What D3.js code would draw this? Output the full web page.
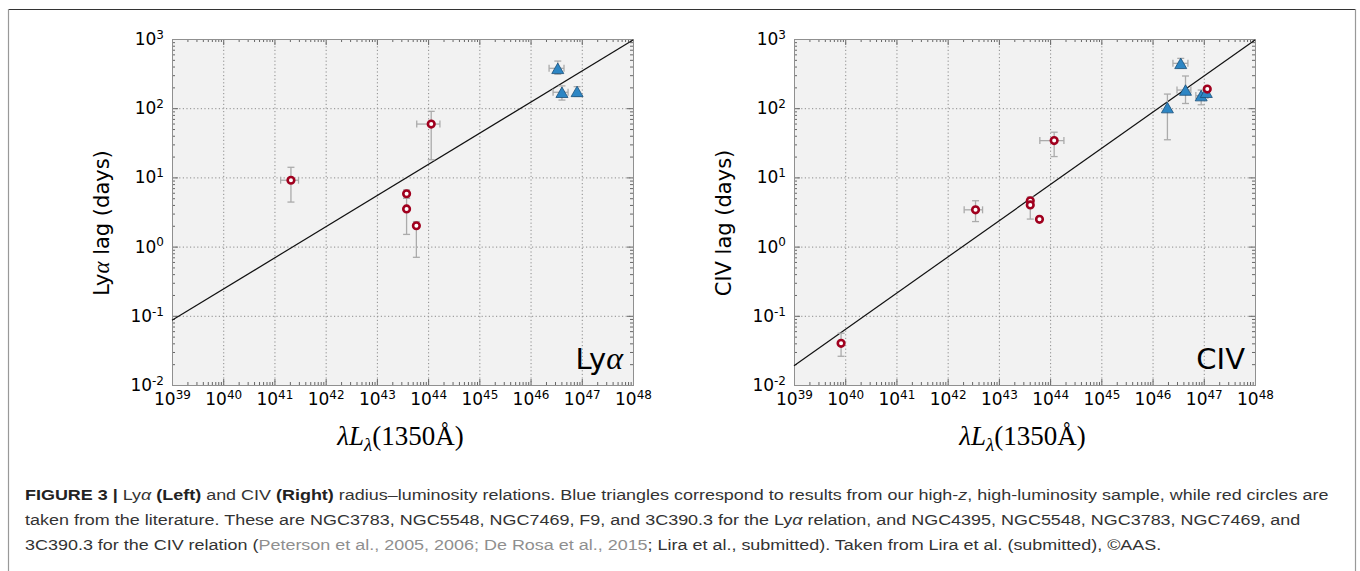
<!DOCTYPE html>
<html><head><meta charset="utf-8">
<script src="https://cdn.jsdelivr.net/npm/d3@7"></script>
<style>body{margin:0;background:#fff} svg{display:block}</style>
</head><body>
<svg id="c" width="1360" height="571"></svg>
<script>
// ---------- tick definitions ----------
const xTicks = [1e39,1e40,1e41,1e42,1e43,1e44,1e45,1e46,1e47,1e48];
const xTickExp = ["39","40","41","42","43","44","45","46","47","48"];
const yTicks = [1e-2,1e-1,1e0,1e1,1e2,1e3];
const yTickExp = ["-2","-1","0","1","2","3"];

// ---------- Lyα panel data (x = λLλ, y = lag days) ----------
const lyaCircles = [
  {x:2.1e41, y:9.1, xlo:1.32e41, xhi:2.95e41, ylo:4.4, yhi:14},
  {x:1.15e44, y:59, xlo:6.0e43, xhi:1.7e44, ylo:18, yhi:90},
  {x:3.8e43, y:5.8, xlo:null, xhi:null, ylo:5.0, yhi:6.6},
  {x:3.8e43, y:3.5, xlo:null, xhi:null, ylo:1.5, yhi:5.0},
  {x:5.9e43, y:2.0, xlo:null, xhi:null, ylo:0.7, yhi:2.3}
];
const lyaTriangles = [
  {x:3.4e46, y:377, xlo:2.3e46, xhi:4.5e46, ylo:310, yhi:480},
  {x:4.1e46, y:170, xlo:2.75e46, xhi:5.4e46, ylo:131, yhi:210},
  {x:8.1e46, y:175, xlo:null, xhi:null, ylo:148, yhi:205}
];
const lyaFit = [[1e39,0.086],[1e48,970]];

// ---------- CIV panel data ----------
const civCircles = [
  {x:8.3e39, y:0.040, xlo:null, xhi:null, ylo:0.026, yhi:0.056},
  {x:3.5e42, y:3.4, xlo:2.1e42, xhi:4.8e42, ylo:2.3, yhi:4.6},
  {x:4.1e43, y:4.6, xlo:null, xhi:null, ylo:4.0, yhi:5.2},
  {x:4.1e43, y:4.0, xlo:null, xhi:null, ylo:2.5, yhi:4.6},
  {x:6.2e43, y:2.48, xlo:null, xhi:null, ylo:2.3, yhi:2.7},
  {x:1.2e44, y:34, xlo:6.3e43, xhi:1.86e44, ylo:20, yhi:45},
  {x:1.17e47, y:189, xlo:null, xhi:null, ylo:175, yhi:200}
];
const civTriangles = [
  {x:3.55e46, y:445, xlo:2.5e46, xhi:4.9e46, ylo:380, yhi:525},
  {x:4.4e46, y:183, xlo:3.0e46, xhi:5.6e46, ylo:117, yhi:292},
  {x:1.95e46, y:102, xlo:null, xhi:null, ylo:35, yhi:160},
  {x:8.9e46, y:152, xlo:7.0e46, xhi:1.2e47, ylo:112, yhi:183},
  {x:1.12e47, y:170, xlo:null, xhi:null, ylo:150, yhi:190}
];
const civFit = [[1e39,0.019],[1e48,970]];

// ---------- caption ----------
const captionLines = [
  [["FIGURE 3 | ","b"],["Ly",""],["α","i"],[" ",""],["(Left)","b"],[" and CIV ",""],["(Right)","b"],
   [" radius–luminosity relations. Blue triangles correspond to results from our high-",""],["z","i"],
   [", high-luminosity sample, while red circles are",""]],
  [["taken from the literature. These are NGC3783, NGC5548, NGC7469, F9, and 3C390.3 for the Ly",""],["α","i"],
   [" relation, and NGC4395, NGC5548, NGC3783, NGC7469, and",""]],
  [["3C390.3 for the CIV relation (",""],["Peterson et al., 2005, 2006; De Rosa et al., 2015","g"],
   ["; Lira et al., submitted). Taken from Lira et al. (submitted), ©AAS.",""]]
];

const svg = d3.select("#c");
const RED = "#a0001e", BLUE = "#2d86c4", BLUE_EDGE = "#1b4f78", ERR = "#ababab";

// figure frame
svg.append("line").attr("x1",8).attr("x2",1356).attr("y1",9.5).attr("y2",9.5).attr("stroke","#333").attr("stroke-width",1.2);
svg.append("line").attr("x1",8.5).attr("x2",8.5).attr("y1",9).attr("y2",571).attr("stroke","#999").attr("stroke-width",1.2);
svg.append("line").attr("x1",1355.5).attr("x2",1355.5).attr("y1",9).attr("y2",571).attr("stroke","#999").attr("stroke-width",1.2);

const minorX = [], minorY = [];
for (let e=39;e<48;e++) for (let k=2;k<10;k++) minorX.push(k*Math.pow(10,e));
for (let e=-2;e<3;e++) for (let k=2;k<10;k++) minorY.push(k*Math.pow(10,e));

function triPath(w,h){ return `M0,${-h/2}L${w/2},${h/2}L${-w/2},${h/2}Z`; }

function panel(cfg){
  const x = d3.scaleLog().domain([1e39,1e48]).range([cfg.left, cfg.right]);
  const y = d3.scaleLog().domain([1e-2,1e3]).range([385,39]);
  const g = svg.append("g");
  const [x0,x1] = x.range(), [y0,y1] = y.range();
  g.append("rect").attr("x",x0).attr("y",y1).attr("width",x1-x0).attr("height",y0-y1).attr("fill","#f2f2f2");
  // grid
  g.selectAll(".gx").data(xTicks.slice(1,-1)).join("line")
    .attr("x1",d=>x(d)+0.5).attr("x2",d=>x(d)+0.5).attr("y1",y1).attr("y2",y0)
    .attr("stroke","#8c8c8c").attr("stroke-width",1).attr("stroke-dasharray","1.2,2.4");
  g.selectAll(".gy").data(yTicks.slice(1,-1)).join("line")
    .attr("y1",d=>y(d)+0.5).attr("y2",d=>y(d)+0.5).attr("x1",x0).attr("x2",x1)
    .attr("stroke","#8c8c8c").attr("stroke-width",1).attr("stroke-dasharray","1.2,2.4");

  const fontT = "DejaVu Sans";
  function styleAxis(sel){ sel.select(".domain").remove(); sel.selectAll(".tick line").attr("stroke","#666"); sel.attr("font-family",fontT).attr("font-size",17); }
  const mk = (ax, vals, size, tr) => g.append("g").attr("transform",tr).call(ax.tickValues(vals).tickSize(-size).tickSizeOuter(0).tickFormat("")).call(styleAxis);
  mk(d3.axisBottom(x), minorX, 3, `translate(0,${y0})`);
  mk(d3.axisTop(x), minorX, 3, `translate(0,${y1})`);
  mk(d3.axisLeft(y), minorY, 3, `translate(${x0},0)`);
  mk(d3.axisRight(y), minorY, 3, `translate(${x1},0)`);
  mk(d3.axisTop(x), xTicks, 6, `translate(0,${y1})`);
  mk(d3.axisRight(y), yTicks, 6, `translate(${x1},0)`);
  const bx = g.append("g").attr("transform",`translate(0,${y0})`)
    .call(d3.axisBottom(x).tickValues(xTicks).tickSize(-6).tickSizeOuter(0).tickPadding(8).tickFormat(()=>"")).call(styleAxis);
  bx.selectAll(".tick text").attr("fill","#000").each(function(d,i){
    const t=d3.select(this); t.append("tspan").text("10");
    t.append("tspan").attr("dy","-0.52em").attr("font-size",12).text(xTickExp[i]);
  });
  const ly = g.append("g").attr("transform",`translate(${x0},0)`)
    .call(d3.axisLeft(y).tickValues(yTicks).tickSize(-6).tickSizeOuter(0).tickPadding(8).tickFormat(()=>"")).call(styleAxis);
  ly.selectAll(".tick text").attr("fill","#000").each(function(d,i){
    const t=d3.select(this); t.append("tspan").text("10");
    t.append("tspan").attr("dy","-0.52em").attr("font-size",12).text(yTickExp[i]);
  });
  g.append("rect").attr("x",x0+0.5).attr("y",y1+0.5).attr("width",x1-x0).attr("height",y0-y1)
    .attr("fill","none").attr("stroke","#909090").attr("stroke-width",1);

  g.append("path").datum(cfg.fit).attr("d",d3.line().x(d=>x(d[0])).y(d=>y(d[1])))
    .attr("stroke","#111").attr("stroke-width",1.2).attr("fill","none");

  function errs(data){
    const eg = g.append("g").attr("stroke",ERR).attr("stroke-width",1.3).attr("fill","none");
    data.forEach(d=>{
      if(d.ylo!=null){
        eg.append("line").attr("x1",x(d.x)).attr("x2",x(d.x)).attr("y1",y(d.ylo)).attr("y2",y(d.yhi));
        [d.ylo,d.yhi].forEach(v=>eg.append("line").attr("x1",x(d.x)-3.5).attr("x2",x(d.x)+3.5).attr("y1",y(v)).attr("y2",y(v)));
      }
      if(d.xlo!=null){
        eg.append("line").attr("y1",y(d.y)).attr("y2",y(d.y)).attr("x1",x(d.xlo)).attr("x2",x(d.xhi));
        [d.xlo,d.xhi].forEach(v=>eg.append("line").attr("y1",y(d.y)-3.5).attr("y2",y(d.y)+3.5).attr("x1",x(v)).attr("x2",x(v)));
      }
    });
  }
  errs(cfg.tri); errs(cfg.circ);
  g.selectAll(".tri").data(cfg.tri).join("path").attr("d",triPath(12,10.5))
    .attr("transform",d=>`translate(${x(d.x)},${y(d.y)})`)
    .attr("fill",BLUE).attr("stroke",BLUE_EDGE).attr("stroke-width",0.8);
  g.selectAll(".circ").data(cfg.circ).join("circle")
    .attr("cx",d=>x(d.x)).attr("cy",d=>y(d.y)).attr("r",3.3)
    .attr("fill","#fff").attr("stroke",RED).attr("stroke-width",2.6);

  const yl = g.append("text").attr("transform",`translate(${cfg.ylabX},223) rotate(-90)`)
    .attr("text-anchor","middle").attr("font-family",fontT).attr("font-size",21).attr("fill","#000");
  cfg.ylab.forEach(p=>yl.append("tspan").text(p[0]).attr("font-family",p[1]?"Liberation Serif":null).attr("font-style",p[1]?"italic":null).attr("font-size",p[1]?23:null));
  const xl = g.append("text").attr("x",(x0+x1)/2-2).attr("y",445).attr("text-anchor","middle")
    .attr("font-family","Liberation Serif").attr("font-size",27).attr("fill","#000");
  xl.append("tspan").attr("font-style","italic").text("λL");
  xl.append("tspan").attr("font-style","italic").attr("font-size",19).attr("dy",6).text("λ");
  xl.append("tspan").attr("dy",-6).text("(1350Å)");
  const pl = g.append("text").attr("x",x1-10).attr("y",369).attr("text-anchor","end")
    .attr("font-family",fontT).attr("font-size",29).attr("fill","#000");
  cfg.plab.forEach(p=>pl.append("tspan").text(p[0]).attr("font-family",p[1]?"Liberation Serif":null).attr("font-style",p[1]?"italic":null).attr("font-size",p[1]?32:null));
}

panel({left:172, right:633, circ:lyaCircles, tri:lyaTriangles, fit:lyaFit, ylabX:109,
  ylab:[["Ly",0],["α",1],[" lag (days)",0]], plab:[["Ly",0],["α",1]]});
panel({left:794, right:1255, circ:civCircles, tri:civTriangles, fit:civFit, ylabX:731,
  ylab:[["CIV lag (days)",0]], plab:[["CIV",0]]});

// caption
const baselines = [500,525,550];
let scale = null;
captionLines.forEach((line,i)=>{
  const t = svg.append("text").attr("font-family","Liberation Sans").attr("font-size",15.5).attr("fill","#333")
    .attr("transform",`translate(25,${baselines[i]})`);
  line.forEach(p=>{
    const s = t.append("tspan").text(p[0]);
    if(p[1]==="b") s.attr("font-weight","bold").attr("fill","#222");
    if(p[1]==="i") s.attr("font-style","italic");
    if(p[1]==="g") s.attr("fill","#8f8f8f");
  });
  if(scale===null){ scale = 1304 / t.node().getComputedTextLength(); }
  t.attr("transform",`translate(25,${baselines[i]}) scale(${scale},1)`);
});
</script>
</body></html>
